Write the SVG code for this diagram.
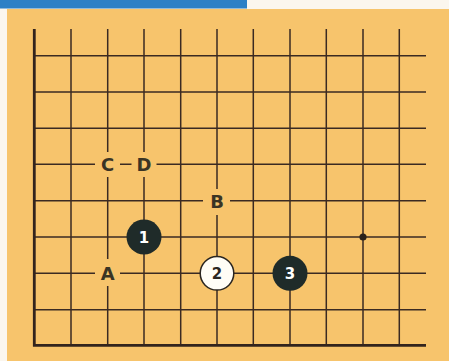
<svg xmlns="http://www.w3.org/2000/svg" width="449" height="361" viewBox="0 0 449 361">
<style>
.g{stroke:#3b2a22;stroke-width:1.5;fill:none}
.e{stroke:#33241d;stroke-width:2.8;fill:none}
.lb{font-family:"DejaVu Sans",sans-serif;font-weight:bold;font-size:18px;fill:#3a3424;text-anchor:middle;dominant-baseline:central}
.bk{fill:#1f2b29}
.wt{fill:#fffdf6;stroke:#2b2620;stroke-width:1.5}
.nw{font-family:"DejaVu Sans",sans-serif;font-weight:bold;font-size:15px;fill:#ffffff;text-anchor:middle;dominant-baseline:central}
.nb{font-family:"DejaVu Sans",sans-serif;font-weight:bold;font-size:15px;fill:#2b2620;text-anchor:middle;dominant-baseline:central}
.bg{fill:#f7c46c}
</style>
<rect width="449" height="361" fill="#fbf6ee"/>
<rect x="7" y="9" width="442" height="352" class="bg"/>
<rect x="0" y="0" width="247" height="8.5" fill="#2d80c6"/>
<g id="connectors">
<path class="g" d="M71 29V345M107.7 29V345M144 29V345M180.7 29V345M217 29V345M253.3 29V345M290 29V345M326.3 29V345M363 29V345M399.3 29V345"/>
<path class="g" d="M34 55.7H426M34 92H426M34 128.3H426M34 164.3H426M34 200.7H426M34 237H426M34 273.3H426M34 309.7H426"/>
<path class="e" d="M34.3 29V346.4M33 345.3H426"/>
</g>
<g id="label-C"><rect x="95" y="152" width="25" height="25" class="bg"/><text x="107.7" y="164.8" class="lb">C</text></g>
<g id="label-D"><rect x="131.5" y="152" width="25" height="25" class="bg"/><text x="144" y="164.8" class="lb">D</text></g>
<g id="label-B"><rect x="203" y="189" width="27" height="26" class="bg"/><text x="217" y="201.5" class="lb">B</text></g>
<g id="label-A"><rect x="95" y="259" width="25" height="27" class="bg"/><text x="107.7" y="273.8" class="lb">A</text></g>
<g id="star"><circle cx="363" cy="237" r="3.6" fill="#2a221c"/></g>
<g id="stone-1"><circle cx="144" cy="237" r="17.5" class="bk"/><text x="144" y="238" class="nw">1</text></g>
<g id="stone-2"><circle cx="217" cy="273.3" r="16.8" class="wt"/><text x="217" y="274.3" class="nb">2</text></g>
<g id="stone-3"><circle cx="290" cy="273.3" r="17.5" class="bk"/><text x="290" y="274.3" class="nw">3</text></g>
</svg>
